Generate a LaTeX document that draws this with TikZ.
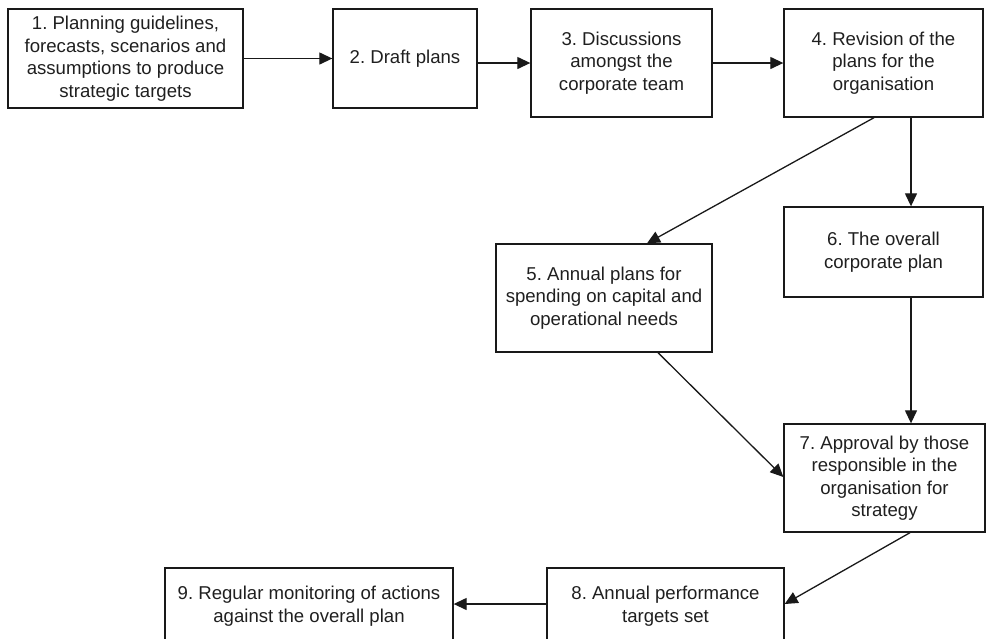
\documentclass[tikz,border=0pt]{standalone}
\usepackage{fontspec}
\setmainfont{Liberation Sans}
\usetikzlibrary{arrows.meta,calc}
\begin{document}
\frenchspacing
\begin{tikzpicture}[x=1pt,y=1pt,
  stage/.style={draw=black!90, line width=1.35pt, align=center, inner sep=0pt,
    font=\fontsize{18.6}{22.5}\selectfont\frenchspacing, text=black!88},
  flow/.style={draw=black!90, line width=1.3pt,
    -{Triangle[length=13pt,width=12pt]}}]
\path[use as bounding box] (0,0) rectangle (986,-638);
\clip (0,0) rectangle (986,-638);

% stages of the planning cycle
\node[stage, minimum width=235pt, minimum height=99pt] (b1) at (125.5,-58.5)
  {1. Planning guidelines,\\forecasts, scenarios and\\assumptions to produce\\strategic targets};
\node[stage, minimum width=144pt, minimum height=99pt] (b2) at (405,-58.5)
  {2. Draft plans};
\node[stage, minimum width=181pt, minimum height=108pt] (b3) at (621.5,-63)
  {3. Discussions\\amongst the\\corporate team};
\node[stage, minimum width=199pt, minimum height=108pt] (b4) at (883.5,-63)
  {4. Revision of the\\plans for the\\organisation};
\node[stage, minimum width=216pt, minimum height=108pt] (b5) at (604,-298)
  {5. Annual plans for\\spending on capital and\\operational needs};
\node[stage, minimum width=199pt, minimum height=90pt] (b6) at (883.5,-252)
  {6. The overall\\corporate plan};
\node[stage, minimum width=201pt, minimum height=108pt] (b7) at (884.5,-478)
  {7. Approval by those\\responsible in the\\organisation for\\strategy};
\node[stage, minimum width=237pt, minimum height=76pt] (b8) at (665.5,-606)
  {8. Annual performance\\targets set};
\node[stage, minimum width=288pt, minimum height=76pt] (b9) at (309,-606)
  {9. Regular monitoring of actions\\against the overall plan};

% connectors
\draw[flow] (b1.east) -- (b2.west);
\draw[flow] ([yshift=-4.5pt]b2.east) -- (b3.west);
\draw[flow] (b3.east) -- (b4.west);
\draw[flow] ([xshift=-9.5pt]b4.south) -- ([xshift=43pt]b5.north);
\draw[flow] ([xshift=27.5pt]b4.south) -- ([xshift=27.5pt]b6.north);
\draw[flow] ([xshift=27.5pt]b6.south) -- ([xshift=26.5pt]b7.north);
\draw[flow] ([xshift=54pt]b5.south) -- ([yshift=1pt]b7.west);
\draw[flow] ([xshift=25.5pt]b7.south) -- ([yshift=2pt]b8.east);
\draw[flow] ([yshift=2pt]b8.west) -- ([yshift=2pt]b9.east);
\end{tikzpicture}
\end{document}
